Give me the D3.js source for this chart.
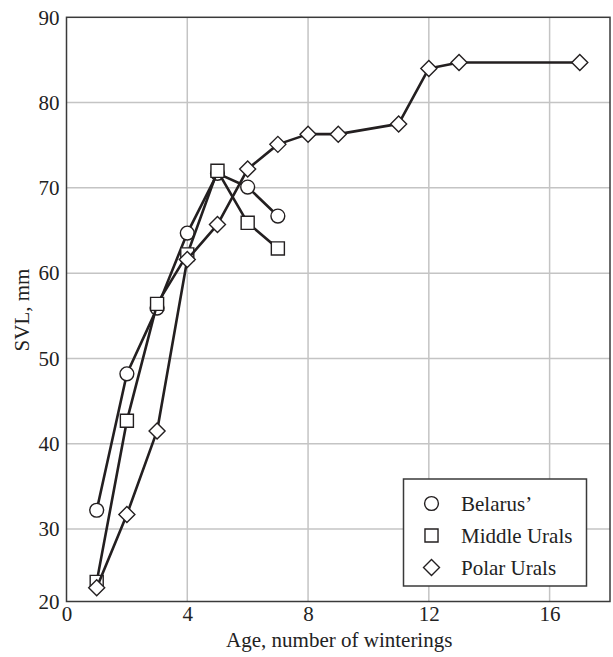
<!DOCTYPE html>
<html>
<head>
<meta charset="utf-8">
<script src="https://cdn.jsdelivr.net/npm/d3@7"></script>
<style>
  body { margin: 0; background: #fff; }
  svg { font-family: "Liberation Serif", "Times New Roman", serif; }
</style>
</head>
<body>
<div class="chart"></div>
<script>
// ages (number of winterings) and SVL values, mm
const belarusAge = [1, 2, 3, 4, 5, 6, 7];
const belarusSvl = [32.2, 48.2, 55.9, 64.7, 71.7, 70.1, 66.7];

const middleAge = [1, 2, 3, 4, 5, 6, 7];
const middleSvl = [23.8, 42.7, 56.4, 62.2, 72.0, 65.9, 62.9];

const polarAge = [1, 2, 3, 4, 5, 6, 7, 8, 9, 11, 12, 13, 17];
const polarSvl = [23.1, 31.7, 41.5, 61.6, 65.7, 72.2, 75.1, 76.3, 76.3, 77.5, 84.0, 84.7, 84.7];

const seriesNames = ['Belarus\u2019', 'Middle Urals', 'Polar Urals'];
const xTicks = [0, 4, 8, 12, 16];
const yTicks = [30, 40, 50, 60, 70, 80, 90];

const W = 613, H = 657;
const margin = { top: 17.3, right: 3, bottom: 55.5, left: 66.5 };

const svg = d3.select('.chart').append('svg')
  .attr('width', W)
  .attr('height', H);

const x = d3.scaleLinear().domain([0, 18]).range([margin.left, W - margin.right]);
// bottom edge of the frame sits a little above 20 in the source figure
const y = d3.scaleLinear().domain([21.5, 90]).range([H - margin.bottom, margin.top]);

// grid
svg.append('g')
  .selectAll('line')
  .data(xTicks.slice(1))
  .enter()
  .append('line')
  .attr('x1', d => x(d)).attr('x2', d => x(d))
  .attr('y1', y(21.5)).attr('y2', y(90))
  .attr('stroke', '#c4c4c4').attr('stroke-width', 1.5);

svg.append('g')
  .selectAll('line')
  .data(yTicks.slice(0, -1))
  .enter()
  .append('line')
  .attr('x1', x(0)).attr('x2', x(18))
  .attr('y1', d => y(d)).attr('y2', d => y(d))
  .attr('stroke', '#c4c4c4').attr('stroke-width', 1.5);

// frame
svg.append('rect')
  .attr('x', x(0)).attr('y', y(90))
  .attr('width', x(18) - x(0)).attr('height', y(21.5) - y(90))
  .attr('fill', 'none').attr('stroke', '#3a3a3a').attr('stroke-width', 1.5);

// axes labels (drawn with d3 axes, domain/ticks hidden)
const xAxis = svg.append('g')
  .attr('transform', `translate(0,${y(21.5)})`)
  .call(d3.axisBottom(x).tickValues(xTicks).tickSize(0).tickPadding(5));
xAxis.select('.domain').remove();
xAxis.selectAll('text').attr('font-size', 21).attr('fill', '#222')
  .attr('font-family', '"Liberation Serif", serif');

const yAxis = svg.append('g')
  .attr('transform', `translate(${x(0)},0)`)
  .call(d3.axisLeft(y).tickValues([21.5].concat(yTicks)).tickSize(0).tickPadding(7)
    .tickFormat(d => (d < 25 ? '20' : d)));
yAxis.select('.domain').remove();
yAxis.selectAll('text').attr('font-size', 21).attr('fill', '#222')
  .attr('font-family', '"Liberation Serif", serif');

svg.append('text')
  .attr('x', (x(0) + x(18)) / 2 + 1)
  .attr('y', 647)
  .attr('text-anchor', 'middle')
  .attr('font-size', 21)
  .attr('fill', '#222')
  .text('Age, number of winterings');

svg.append('text')
  .attr('transform', 'translate(29,310) rotate(-90)')
  .attr('text-anchor', 'middle')
  .attr('font-size', 21)
  .attr('fill', '#222')
  .text('SVL, mm');

// marker shapes
const shapes = [d3.symbolCircle, d3.symbolSquare, d3.symbolDiamond];
const sizes = [150, 170, 150];
const diamondPath = s => `M0,${-s}L${s},0L0,${s}L${-s},0Z`;
function markerPath(i) {
  if (i === 2) return diamondPath(8);
  return d3.symbol().type(shapes[i]).size(sizes[i])();
}

const series = [
  belarusAge.map((a, i) => ({ age: a, svl: belarusSvl[i] })),
  middleAge.map((a, i) => ({ age: a, svl: middleSvl[i] })),
  polarAge.map((a, i) => ({ age: a, svl: polarSvl[i] }))
];

const line = d3.line().x(d => x(d.age)).y(d => y(d.svl));

series.forEach((data, i) => {
  const g = svg.append('g');
  g.append('path')
    .datum(data)
    .attr('d', line)
    .attr('fill', 'none')
    .attr('stroke', '#231f20')
    .attr('stroke-width', 2.6)
    .attr('stroke-linejoin', 'round');
  g.selectAll('path.m')
    .data(data)
    .enter()
    .append('path')
    .attr('class', 'm')
    .attr('transform', d => `translate(${x(d.age)},${y(d.svl)})`)
    .attr('d', markerPath(i))
    .attr('fill', '#fff')
    .attr('stroke', '#231f20')
    .attr('stroke-width', 1.4);
});

// legend
const legend = svg.append('g');
legend.append('rect')
  .attr('x', 403.5).attr('y', 479)
  .attr('width', 183).attr('height', 107)
  .attr('fill', '#fff').attr('stroke', '#3a3a3a').attr('stroke-width', 1.5);

seriesNames.forEach((name, i) => {
  const cy = 503.5 + i * 32;
  legend.append('path')
    .attr('transform', `translate(431.5,${cy})`)
    .attr('d', markerPath(i))
    .attr('fill', '#fff')
    .attr('stroke', '#231f20')
    .attr('stroke-width', 1.4);
  legend.append('text')
    .attr('x', 461)
    .attr('y', cy + 7)
    .attr('font-size', 21)
    .attr('fill', '#222')
    .text(name);
});
</script>
</body>
</html>
